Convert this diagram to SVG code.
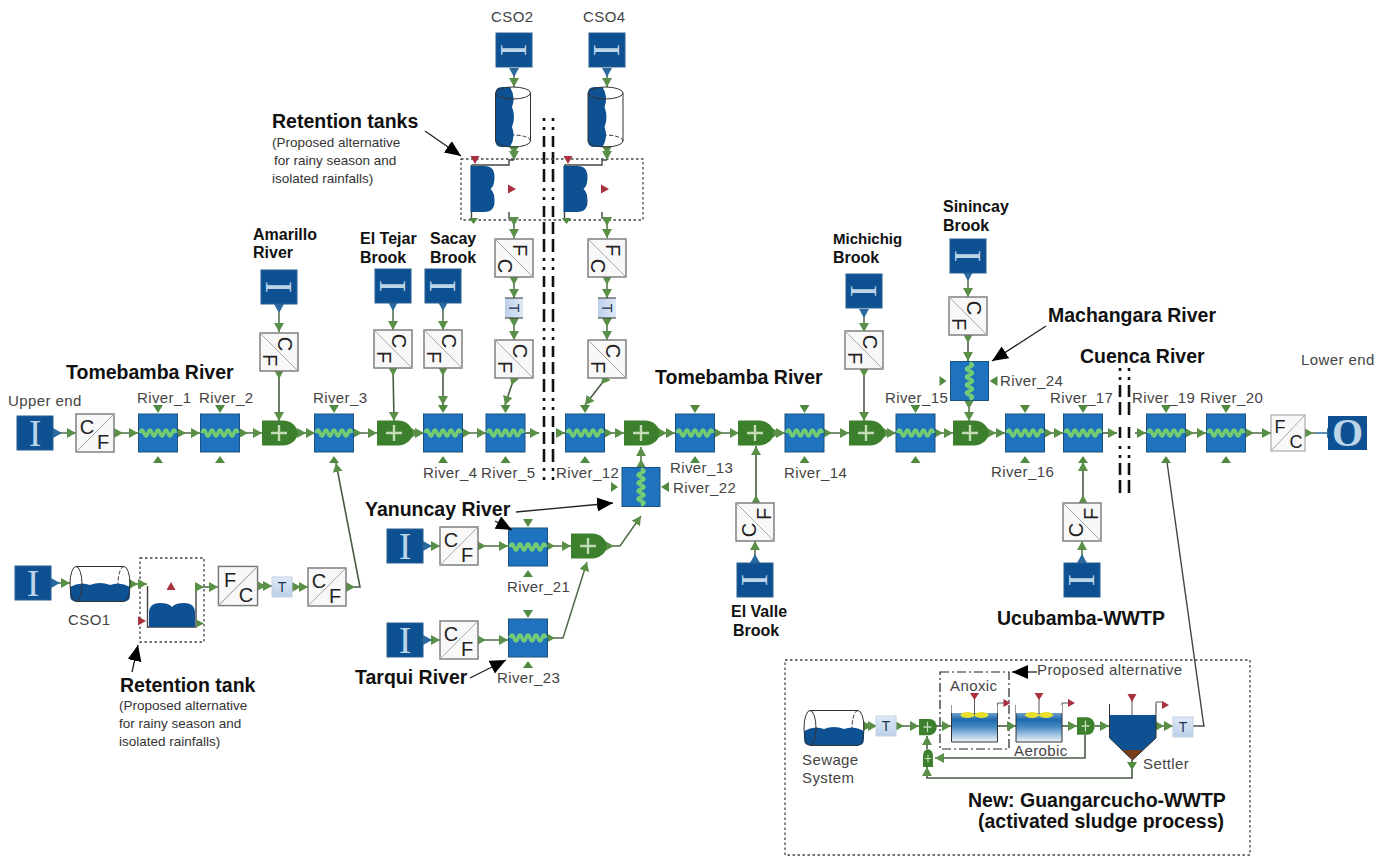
<svg xmlns="http://www.w3.org/2000/svg" width="1391" height="857" viewBox="0 0 1391 857">
<style>
text{font-family:"Liberation Sans",Arial,sans-serif}
.n{font-size:15px;fill:#444;letter-spacing:.4px}
.b{font-size:19.500px;font-weight:bold;fill:#111}
.m{font-size:16px;font-weight:bold;fill:#111}
.s{font-size:13.500px;fill:#333}
.l{font-size:20px;fill:#222;text-anchor:middle}
.t{font-size:14px;fill:#1c3550;text-anchor:middle}
.i{font-family:"Liberation Serif",serif;font-size:38px;fill:#bcd5e8;text-anchor:middle}
.c{fill:none;stroke:#4f6b48;stroke-width:1.5;marker-start:url(#mS);marker-end:url(#mE)}
.cb{fill:none;stroke:#4f6b48;stroke-width:1.5;marker-start:url(#mB);marker-end:url(#mE)}
.d{fill:none;stroke:#4a5a46;stroke-width:1.6;marker-start:url(#mS);marker-end:url(#mE)}
.e{fill:none;stroke:#4a5a46;stroke-width:1.6;marker-end:url(#mE)}
.f{fill:none;stroke:#444;stroke-width:1.4}
.k{fill:none;stroke:#222;stroke-width:1.3;marker-end:url(#mK)}
.dash{fill:none;stroke:#111;stroke-width:2.6}
.dot{fill:none;stroke:#444;stroke-width:1.3;stroke-dasharray:2.5 2.5}
.red{fill:#a8313f}
.gp{fill:#4f8a3e}
</style>
<defs>
<marker id="mE" markerUnits="userSpaceOnUse" markerWidth="11" markerHeight="11" refX="9" refY="5" orient="auto"><path d="M0,0L9,5L0,10z" fill="#5a8f48"/></marker>
<marker id="mS" markerUnits="userSpaceOnUse" markerWidth="11" markerHeight="11" refX="1" refY="5" orient="auto"><path d="M0,0L9,5L0,10z" fill="#5a8f48"/></marker>
<marker id="mB" markerUnits="userSpaceOnUse" markerWidth="11" markerHeight="11" refX="1" refY="5" orient="auto"><path d="M0,0L9,5L0,10z" fill="#2a6aa0"/></marker>
<marker id="mK" markerUnits="userSpaceOnUse" markerWidth="18" markerHeight="16" refX="16" refY="7" orient="auto"><path d="M0,0L16,7L0,14z" fill="#000"/></marker>
<linearGradient id="tg" x1="0" y1="0" x2="0" y2="1"><stop offset="0" stop-color="#dfe8f5"/><stop offset="1" stop-color="#bcd0ea"/></linearGradient>
<linearGradient id="wg" x1="0" y1="0" x2="0" y2="1"><stop offset="0" stop-color="#cfe3f2"/><stop offset=".4" stop-color="#1d69ad"/><stop offset=".6" stop-color="#4a8cc4"/><stop offset="1" stop-color="#f2f7fb"/></linearGradient>
<g id="riv"><rect x="-19.500" y="-19" width="39" height="38" fill="#1f72bd" stroke="#1b527f"/><path d="M-18 0q2 -6 4 0t4 0t4 0t4 0t4 0t4 0t4 0t4 0t4 0" fill="none" stroke="#74cb75" stroke-width="3.600"/><path d="M-5,-28H5L0,-20z" class="gp"/><path d="M-5,30H5L0,23z" class="gp"/></g>
<g id="mrg"><path d="M-17.500,-12.500H3A14.500 12.500 0 0 1 3,12.500H-17.500Q-18,12.500 -18,12V-12Q-18,-12.500 -17.500,-12.500z" fill="#3c7f2c"/><path d="M-9,0H7M-1,-8V8" stroke="#c2dcb6" stroke-width="2.400" fill="none"/></g>
<g id="inl"><rect x="-18" y="-17" width="36" height="34" fill="#0d5193" stroke="#2a5f8f"/></g>
<g id="cfb"><rect x="-19" y="-19" width="38" height="38" fill="#f8f8f8" stroke="#777" stroke-width="1.400"/><path d="M-19,19L19,-19" stroke="#aaa"/></g>
<g id="tb"><rect x="-10" y="-10" width="20" height="20" fill="url(#tg)" stroke="#c3d2e6"/></g>
<g id="cyl"><path d="M24,-17.500A6 17.500 0 0 0 24,17.500" fill="none" stroke="#333" stroke-dasharray="4 2"/><path d="M-30,3Q-20,-3 -10,1Q0,-3 10,1Q20,-3 30,3V11Q30,17.500 24,17.500H-24Q-30,17.500 -30,11z" fill="#0d5193"/><path d="M-24,-17.500H24A6 17.500 0 0 1 24,17.500H-24A6 17.500 0 0 1 -24,-17.500A6 17.500 0 0 1 -24,17.500" fill="none" stroke="#333"/></g>
<g id="tnk"><path d="M-23,12V-2Q-23,-12 -12,-12Q-3,-12 0,-8Q3,-12 12,-12Q23,-12 23,-2V12z" fill="#0d5193"/></g>
<path id="rd" d="M-4.500,-4H4.500L0,4z" class="red"/>
<g id="rct"><path d="M-23,-18V19H23V-18" fill="url(#wg)" stroke="none"/><path d="M-23,-18V19H23V-18" fill="none" stroke="#333"/><path d="M-23,-18H23V-10H-23z" fill="#fff"/><path d="M0,-29V-8" stroke="#555"/><ellipse cx="-7" cy="-8" rx="7" ry="3" fill="#e8de2e"/><ellipse cx="7" cy="-8" rx="7" ry="3" fill="#e8de2e"/><path d="M-4.500,-30H4.500L0,-23z" class="red"/><path d="M23,-18V-20H30" fill="none" stroke="#555"/><path d="M29,-24L36,-20L29,-16z" class="red"/></g>
</defs>

<g id="breaks">
<path class="dash" stroke-dasharray="3 6 3 6 11 5 12 5 13 6" d="M544,118V480M553,118V480"/>
<path class="dash" stroke-dasharray="3 6 3 5 12 5 13 12 11 8" d="M1120,368V500M1129,368V500"/>
<rect class="dot" x="461" y="159" width="182" height="61"/>
<rect class="dot" x="140" y="558" width="64" height="84"/>
<rect class="dot" x="785" y="660" width="465" height="195"/>
<rect x="940" y="672" width="69" height="77" fill="none" stroke="#222" stroke-width="1.200" stroke-dasharray="9 3 2 3"/>
</g>

<g id="connectors">
<path class="cb" d="M54,433H76"/><path class="c" d="M115,433H138"/><path class="c" d="M178,433H200"/><path class="c" d="M240,433H262"/><path class="c" d="M298,433H315"/><path class="c" d="M354,433H377"/><path class="c" d="M412,433H424"/><path class="c" d="M463,433H486"/>
<path class="e" d="M525,433H539"/><path class="e" d="M556,433H565"/>
<path class="c" d="M605,433H624"/><path class="c" d="M659,433H675"/><path class="c" d="M715,433H739"/><path class="c" d="M773,433H785"/><path class="c" d="M824,433H849"/><path class="c" d="M884,433H896"/><path class="c" d="M935,433H953"/><path class="c" d="M988,433H1005"/><path class="c" d="M1045,433H1063"/><path class="e" d="M1103,433H1117"/><path class="e" d="M1135,433H1146"/><path class="c" d="M1186,433H1206"/><path class="c" d="M1246,433H1271"/>
<path fill="none" stroke="#4f6b48" stroke-width="1.500" marker-start="url(#mS)" d="M1305,433H1316"/><path fill="none" stroke="#2a6aa0" stroke-width="1.500" marker-end="url(#mB)" d="M1316,433H1328"/>
<path class="cb" d="M279,305V332"/><path class="d" d="M279,371V421"/>
<path class="cb" d="M393,303V330"/><path class="d" d="M393,368L394,421"/>
<path class="cb" d="M443,303V330"/><path class="d" d="M443,368V405"/>
<path class="cb" d="M864,310V332"/><path class="d" d="M864,369V421"/>
<path class="cb" d="M968,273V297"/><path class="d" d="M968,335V361"/><path class="c" d="M969,401V421"/>
<path class="d" d="M756,503V446"/><path class="cb" d="M755,562V541"/>
<path class="d" d="M1083,503V462"/><path class="cb" d="M1082,562V541"/>
<path class="cb" d="M514,69V87"/><path class="cb" d="M607,69V87"/>
<path class="c" d="M514,147V160"/><path class="c" d="M607,147V160"/>
<path class="f" d="M471.500,165H509V160H514M564.500,165H602V160H607"/>
<path class="f" d="M471.500,165V218M564.500,165V218"/>
<path class="f" d="M509,212V218H514M602,212V218H607"/>
<path class="c" d="M514,218V238"/><path class="c" d="M607,218V238"/>
<path class="c" d="M514,277V298"/><path class="c" d="M607,277V298"/>
<path class="c" d="M514,319V340"/><path class="c" d="M607,319V340"/>
<path class="d" d="M514,378L505,405"/><path class="d" d="M606,378L585,405"/>
<path class="cb" d="M424,546H440"/><path class="c" d="M478,546H508"/><path class="c" d="M547,546H571"/>
<path class="c" d="M606,546H620L641,516"/><path class="c" d="M641,467V447"/>
<path class="cb" d="M424,640H440"/><path class="c" d="M478,640H508"/><path class="c" d="M547,638H563L587,562"/>
<path class="cb" d="M52,583H70"/><path class="c" d="M130,584H147"/>
<path class="f" d="M147.500,586V627H196V587"/><path class="c" d="M196,587H218"/>
<path class="c" d="M258,586H272"/><path class="c" d="M293,587H308"/>
<path class="d" d="M347,587H360L336,463"/>
<path class="c" d="M864,726H877"/><path class="c" d="M896,726H919"/><path class="e" d="M936,726H951"/><path class="e" d="M998,726H1016"/>
<path class="e" d="M1062,726H1077"/><path class="e" d="M1095,726H1109"/><path class="c" d="M1156,726H1173"/>
<path class="f" d="M1192,726H1204"/><path class="f" d="M1204,727L1167,462"/>
<path class="e" d="M1085,735V758H935"/><path class="e" d="M1132,760V778H927V767"/><path class="e" d="M927,749V736"/>
<path d="M1127,762H1137L1132,770z" class="gp"/>
</g>

<g id="upper-end"><use href="#inl" x="35" y="433"/><text class="i" x="35" y="446">I</text><text class="n" x="8" y="406">Upper end</text></g>
<g id="cf-0" transform="translate(95,433)"><use href="#cfb"/><text class="l" x="-8" y="1">C</text><text class="l" x="8" y="16">F</text></g>
<g id="river-1"><use href="#riv" x="158" y="433"/><text class="n" x="137" y="403">River_1</text></g>
<g id="river-2"><use href="#riv" x="220" y="433"/><text class="n" x="199" y="403">River_2</text></g>
<g id="merge-1"><use href="#mrg" x="280" y="433"/></g>
<g id="river-3"><use href="#riv" x="334" y="433"/><text class="n" x="313" y="403">River_3</text></g>
<g id="merge-2"><use href="#mrg" x="395" y="433"/></g>
<g id="river-4"><use href="#riv" x="443" y="433"/><text class="n" x="423" y="478">River_4</text></g>
<g id="river-5"><use href="#riv" x="505.500" y="433"/><text class="n" x="481" y="478">River_5</text></g>
<g id="river-12"><use href="#riv" x="585" y="433"/><text class="n" x="556" y="478">River_12</text></g>
<g id="merge-3"><use href="#mrg" x="642" y="433"/></g>
<g id="river-13"><use href="#riv" x="695" y="433"/><text class="n" x="670" y="473">River_13</text></g>
<g id="merge-4"><use href="#mrg" x="756" y="433"/></g>
<g id="river-14"><use href="#riv" x="804.500" y="433"/><text class="n" x="784" y="478">River_14</text></g>
<g id="merge-5"><use href="#mrg" x="867" y="433"/></g>
<g id="river-15"><use href="#riv" x="915.500" y="433"/><text class="n" x="885" y="403">River_15</text></g>
<g id="merge-6"><use href="#mrg" x="971" y="433"/></g>
<g id="river-16"><use href="#riv" x="1025" y="433"/><text class="n" x="991" y="477">River_16</text></g>
<g id="river-17"><use href="#riv" x="1083" y="433"/><text class="n" x="1050" y="403">River_17</text></g>
<g id="river-19"><use href="#riv" x="1166" y="433"/><text class="n" x="1132" y="403">River_19</text></g>
<g id="river-20"><use href="#riv" x="1226" y="433"/><text class="n" x="1200" y="403">River_20</text></g>
<g id="fc-end" transform="translate(1288,433)"><rect x="-17" y="-18" width="34" height="36" fill="#f8f8f8" stroke="#999"/><path d="M-17,18L17,-18" stroke="#aaa"/><text class="l" x="-8" y="0" style="font-size:18px">F</text><text class="l" x="8" y="15" style="font-size:18px">C</text></g>
<g id="lower-end"><rect x="1328" y="416" width="39" height="34" fill="#0d5193"/><text class="i" x="1347.500" y="446" style="font-size:40px;font-weight:bold">O</text><text class="n" x="1301" y="365">Lower end</text></g>

<g id="amarillo" transform="translate(279,287)"><use href="#inl"/><text class="i" transform="rotate(90)" y="13">I</text></g>
<g id="amarillo-cf" transform="translate(279,352) rotate(90)"><use href="#cfb"/><text class="l" x="-8" y="1">C</text><text class="l" x="8" y="16">F</text></g>
<g id="eltejar" transform="translate(393,286)"><use href="#inl"/><text class="i" transform="rotate(90)" y="13">I</text></g>
<g id="eltejar-cf" transform="translate(393,349) rotate(90)"><use href="#cfb"/><text class="l" x="-8" y="1">C</text><text class="l" x="8" y="16">F</text></g>
<g id="sacay" transform="translate(443,286)"><use href="#inl"/><text class="i" transform="rotate(90)" y="13">I</text></g>
<g id="sacay-cf" transform="translate(443,349) rotate(90)"><use href="#cfb"/><text class="l" x="-8" y="1">C</text><text class="l" x="8" y="16">F</text></g>
<g id="michichig" transform="translate(864,291)"><use href="#inl"/><text class="i" transform="rotate(90)" y="13">I</text></g>
<g id="michichig-cf" transform="translate(864,350) rotate(90)"><use href="#cfb"/><text class="l" x="-8" y="1">C</text><text class="l" x="8" y="16">F</text></g>
<g id="sinincay" transform="translate(968,256)"><use href="#inl"/><text class="i" transform="rotate(90)" y="13">I</text></g>
<g id="sinincay-cf" transform="translate(968,316) rotate(90)"><use href="#cfb"/><text class="l" x="-8" y="1">C</text><text class="l" x="8" y="16">F</text></g>
<g id="river-24"><g transform="translate(969.500,381) rotate(90)"><use href="#riv"/></g><text class="n" x="1000" y="386">River_24</text></g>

<g id="cso2" transform="translate(514,50)"><use href="#inl"/><text class="i" transform="rotate(90)" y="13">I</text></g>
<g id="cso4" transform="translate(607,50)"><use href="#inl"/><text class="i" transform="rotate(90)" y="13">I</text></g>
<text class="n" x="491" y="22">CSO2</text><text class="n" x="583" y="22">CSO4</text>
<g id="cyl2" transform="translate(513,117) rotate(90)"><use href="#cyl"/></g>
<g id="cyl4" transform="translate(605.500,117) rotate(90)"><use href="#cyl"/></g>
<g id="tank2" transform="translate(482.500,189) rotate(90)"><use href="#tnk"/></g>
<g id="tank4" transform="translate(575.500,189) rotate(90)"><use href="#tnk"/></g>
<use href="#rd" x="475" y="160"/><use href="#rd" x="568" y="160"/>
<use href="#rd" transform="translate(512,189) rotate(-90)"/><use href="#rd" transform="translate(605,189) rotate(-90)"/>
<path class="gp" d="M469,218H478L473.500,224zM562,218H571L566.500,224z"/>
<g id="fc2" transform="translate(514,258) rotate(90)"><use href="#cfb"/><text class="l" x="-8" y="1">F</text><text class="l" x="8" y="16">C</text></g>
<g id="fc4" transform="translate(607,258) rotate(90)"><use href="#cfb"/><text class="l" x="-8" y="1">F</text><text class="l" x="8" y="16">C</text></g>
<g id="t2" transform="translate(514,308) rotate(90)"><rect x="-10" y="-9" width="20" height="18" fill="url(#tg)"/><path d="M-10,-9V9M10,-9V9" stroke="#333"/><text class="t" y="5">T</text></g>
<g id="t4" transform="translate(607,308) rotate(90)"><rect x="-10" y="-9" width="20" height="18" fill="url(#tg)"/><path d="M-10,-9V9M10,-9V9" stroke="#333"/><text class="t" y="5">T</text></g>
<g id="cf2" transform="translate(514,359) rotate(90)"><use href="#cfb"/><text class="l" x="-8" y="1">C</text><text class="l" x="8" y="16">F</text></g>
<g id="cf4" transform="translate(607,359) rotate(90)"><use href="#cfb"/><text class="l" x="-8" y="1">C</text><text class="l" x="8" y="16">F</text></g>

<g id="river-22"><g transform="translate(641,487) rotate(90)"><use href="#riv"/></g><text class="n" x="673" y="493">River_22</text></g>
<g id="valle-cf" transform="translate(755,522) rotate(-90)"><use href="#cfb"/><text class="l" x="-8" y="1">C</text><text class="l" x="8" y="16">F</text></g>
<g id="valle" transform="translate(755,580)"><use href="#inl"/><text class="i" transform="rotate(90)" y="13">I</text></g>
<g id="ucu-cf" transform="translate(1082,522) rotate(-90)"><use href="#cfb"/><text class="l" x="-8" y="1">C</text><text class="l" x="8" y="16">F</text></g>
<g id="ucu" transform="translate(1082,580)"><use href="#inl"/><text class="i" transform="rotate(90)" y="13">I</text></g>

<g id="yanuncay"><use href="#inl" x="405" y="546"/><text class="i" x="405" y="559">I</text></g>
<g id="yan-cf" transform="translate(459,546)"><use href="#cfb"/><text class="l" x="-8" y="1">C</text><text class="l" x="8" y="16">F</text></g>
<g id="river-21"><use href="#riv" x="528" y="547"/><text class="n" x="507" y="592">River_21</text></g>
<g id="merge-7"><use href="#mrg" x="589" y="546"/></g>
<g id="tarqui"><use href="#inl" x="405" y="640"/><text class="i" x="405" y="653">I</text></g>
<g id="tar-cf" transform="translate(459,640)"><use href="#cfb"/><text class="l" x="-8" y="1">C</text><text class="l" x="8" y="16">F</text></g>
<g id="river-23"><use href="#riv" x="528" y="638"/><text class="n" x="497" y="683">River_23</text></g>

<g id="inlet-cso1"><use href="#inl" x="33" y="583"/><text class="i" x="33" y="596">I</text></g>
<g id="cso1"><use href="#cyl" x="100" y="584"/><text class="n" x="68" y="625">CSO1</text></g>
<g id="tank1"><use href="#tnk" x="172" y="615"/><use href="#rd" transform="translate(171,586) rotate(180)"/><use href="#rd" transform="translate(142,621) rotate(-90)"/><path class="gp" d="M197,620L204,623.500L197,627z"/></g>
<g id="fc1" transform="translate(238,586)"><use href="#cfb" transform="scale(1.030)"/><text class="l" x="-8" y="1">F</text><text class="l" x="8" y="16">C</text></g>
<g id="t1" transform="translate(282,587)"><use href="#tb"/><text class="t" y="5">T</text></g>
<g id="cf1" transform="translate(327,587)"><use href="#cfb"/><text class="l" x="-8" y="1">C</text><text class="l" x="8" y="16">F</text></g>

<g id="wwtp">
<use href="#cyl" x="834" y="728"/><text class="n" x="802" y="765">Sewage</text><text class="n" x="802" y="783">System</text>
<g transform="translate(886,726)"><use href="#tb"/><text class="t" y="5">T</text></g>
<use href="#mrg" transform="translate(928,727) scale(.5,.65)"/>
<use href="#mrg" transform="translate(1086,726) scale(.5,.7)"/>
<use href="#mrg" transform="translate(928,758) rotate(-90) scale(.5,.4)"/>
<use href="#rct" x="974.500" y="723"/><use href="#rct" x="1039" y="723"/>
<text class="n" x="950" y="691">Anoxic</text><text class="n" x="1014" y="756">Aerobic</text><text class="n" x="1143" y="769">Settler</text>
<path d="M1109.500,715H1156V738L1132.500,760L1109.500,738z" fill="#0d5193"/>
<path d="M1122,750H1143L1132.500,760z" fill="#7a3d1a"/>
<path d="M1109.500,704V738L1132.500,760L1156,738V704" fill="none" stroke="#333"/>
<path d="M1132,697V715M1156,704V702H1163" stroke="#555" fill="none"/>
<use href="#rd" x="1132" y="698"/><path class="red" d="M1162,701L1169,705L1162,709z"/>
<g transform="translate(1183,727)"><use href="#tb"/><text class="t" y="5">T</text></g>
<path class="k" d="M1037,672H1012"/>
<text class="n" x="1037" y="675">Proposed alternative</text>
</g>

<g id="labels">
<text class="b" x="66" y="379">Tomebamba River</text>
<text class="b" x="655" y="384">Tomebamba River</text>
<text class="b" x="1080" y="363">Cuenca River</text>
<text class="b" x="1048" y="322">Machangara River</text>
<text class="b" x="365" y="516">Yanuncay River</text>
<text class="b" x="355" y="684">Tarqui River</text>
<text class="b" x="272" y="128">Retention tanks</text>
<text class="b" x="120" y="692">Retention tank</text>
<text class="b" x="997" y="625">Ucubamba-WWTP</text>
<text class="b" x="968" y="807">New: Guangarcucho-WWTP</text>
<text class="b" x="978" y="828">(activated sludge process)</text>
<text class="m" x="253" y="240">Amarillo</text><text class="m" x="253" y="258">River</text>
<text class="m" x="360" y="244">El Tejar</text><text class="m" x="360" y="263">Brook</text>
<text class="m" x="430" y="244">Sacay</text><text class="m" x="430" y="263">Brook</text>
<text class="m" x="833" y="244" style="font-size:15px">Michichig</text><text class="m" x="833" y="263">Brook</text>
<text class="m" x="943" y="212">Sinincay</text><text class="m" x="943" y="231">Brook</text>
<text class="m" x="731" y="617">El Valle</text><text class="m" x="733" y="636">Brook</text>
<text class="s" x="272" y="147">(Proposed alternative</text><text class="s" x="274" y="165">for rainy season and</text><text class="s" x="272" y="183">isolated rainfalls)</text>
<text class="s" x="119" y="710">(Proposed alternative</text><text class="s" x="119" y="728">for rainy season and</text><text class="s" x="119" y="746">isolated rainfalls)</text>
</g>

<g id="callouts">
<path class="k" d="M425,131L461,156"/>
<path class="k" d="M1046,326L992,361"/>
<path class="k" d="M516,512L613,503"/>
<path class="k" d="M495,521L512,530"/>
<path class="k" d="M470,678L506,660"/>
<path class="k" d="M132,672L138,645"/>
</g>
</svg>
